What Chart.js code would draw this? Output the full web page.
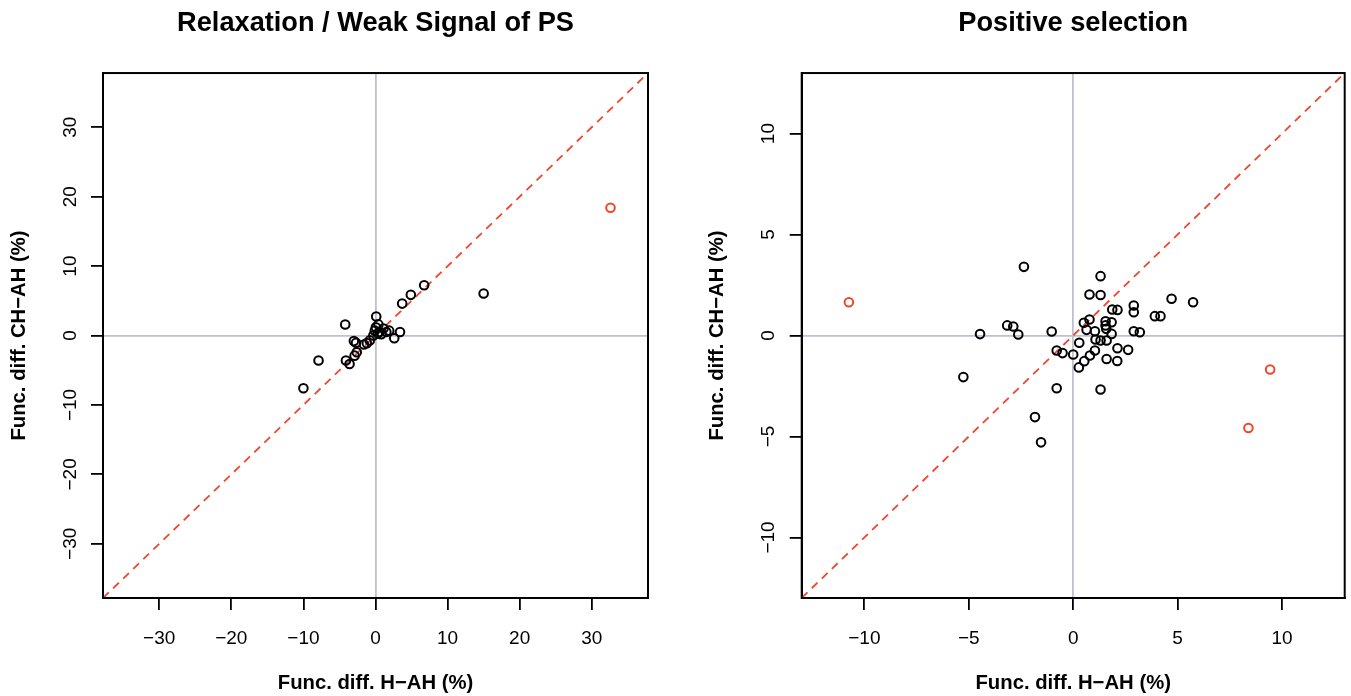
<!DOCTYPE html>
<html>
<head>
<meta charset="utf-8">
<script src="https://cdn.jsdelivr.net/npm/chart.js@4/dist/chart.umd.min.js"></script>
<style>
  html, body { margin: 0; padding: 0; background: #ffffff; }
  #wrap { position: relative; width: 1351px; height: 696px; overflow: hidden; }
  .pane { position: absolute; top: 0; height: 696px; }
</style>
</head>
<body>
<div id="wrap">
  <div class="pane" style="left:0;width:675px;"><canvas id="c1" width="675" height="696"></canvas></div>
  <div class="pane" style="left:675px;width:676px;"><canvas id="c2" width="676" height="696"></canvas></div>
</div>
<script>
// ---------- data: Relaxation / Weak Signal of PS ----------
const relaxH  = [15.0, 6.75, 4.9, 3.7, -4.2, 0.1, -7.9, -10.0, 3.4, 2.6, 1.9, 1.1, 0.4, 0.05, -0.1, 0.55, 1.5, -3.0, -2.7, -1.2, -1.6, -0.8, -2.6, -2.9, -4.1, -3.6, -0.3, 0.3, 0.8];
const relaxCH = [6.05, 7.24, 5.86, 4.6, 1.58, 2.73, -3.6, -7.6, 0.5, -0.4, 0.7, 1.0, 1.6, 1.2, 0.7, 0.5, 0.5, -0.8, -1.05, -1.1, -1.3, -0.7, -2.4, -2.9, -3.6, -4.1, 0.0, 0.3, 0.2];
const relaxOutH  = [32.6];
const relaxOutCH = [18.4];
const relaxTicks = [-30, -20, -10, 0, 10, 20, 30];
const relaxLim = 37.8;

// ---------- data: Positive selection ----------
const psH  = [-2.36, 1.31, 0.78, 1.31, 4.71, 5.74, 2.90, 2.90, 1.87, 2.12, 3.91, 4.18, 0.78, 0.51, 1.55, 1.84, 1.55, 1.58, 1.04, 0.64, 1.84, 2.90, 3.19, -3.16, -2.87, -4.46, -2.63, -1.03, 0.29, 1.07, 1.31, 1.60, 1.04, 0.80, 0.53, 0.27, -0.79, -0.51, 0.0, 2.12, 2.63, 1.60, 2.11, -0.79, 1.31, -5.26, -1.83, -1.54];
const psCH = [3.40, 2.94, 2.03, 2.01, 1.82, 1.65, 1.49, 1.15, 1.29, 1.27, 0.96, 0.96, 0.79, 0.63, 0.71, 0.66, 0.50, 0.33, 0.21, 0.28, 0.08, 0.21, 0.16, 0.50, 0.45, 0.07, 0.05, 0.20, -0.36, -0.20, -0.25, -0.25, -0.74, -0.99, -1.27, -1.58, -0.74, -0.87, -0.94, -0.63, -0.71, -1.16, -1.26, -2.61, -2.67, -2.06, -4.04, -5.29];
const psOutH  = [-10.74, 9.43, 8.39];
const psOutCH = [1.65, -1.68, -4.58];
const psTicks = [-10, -5, 0, 5, 10];
const psLim = 13.0;

// ---------- styling ----------
const FONT = '"Liberation Sans", Arial, Helvetica, sans-serif';
const RED = '#f0462d';
const ZERO = '#c0c0cf';

function pts(xs, ys) { return xs.map((x, i) => ({ x: x, y: ys[i] })); }
function fmt(v) { return v < 0 ? '\u2212' + Math.abs(v) : String(v); }

const boxPlugin = {
  id: 'box',
  afterDatasetsDraw(chart) {
    const a = chart.chartArea, ctx = chart.ctx;
    ctx.save();
    ctx.strokeStyle = '#000';
    ctx.lineWidth = 2;
    ctx.strokeRect(a.left, a.top, a.right - a.left, a.bottom - a.top);
    ctx.restore();
  }
};

function makeChart(id, cfg) {
  const lim = cfg.lim, ticks = cfg.ticks;
  const axisCommon = (isX) => ({
    type: 'linear',
    min: -lim, max: lim,
    afterBuildTicks: s => { s.ticks = ticks.map(v => ({ value: v })); },
    grid: {
      drawOnChartArea: true,
      color: c => (c.tick && c.tick.value === 0) ? ZERO : 'rgba(0,0,0,0)',
      lineWidth: 1.8,
      tickColor: '#000',
      tickWidth: 1.8,
      tickLength: 12
    },
    border: { display: true, color: '#000', width: 2 },
    ticks: {
      autoSkip: false,
      color: '#000',
      font: { family: FONT, size: 19 },
      callback: v => fmt(v),
      padding: isX ? cfg.xTickPad : cfg.yTickPad,
      minRotation: isX ? 0 : 90,
      maxRotation: isX ? 0 : 90,
      crossAlign: isX ? 'near' : 'center'
    },
    title: {
      display: true,
      text: isX ? 'Func. diff. H\u2212AH (%)' : 'Func. diff. CH\u2212AH (%)',
      color: '#000',
      font: { family: FONT, size: 20.3, weight: 'bold' },
      padding: isX ? { top: 0, bottom: 0 } : { top: cfg.yTitlePad, bottom: 0 }
    },
    afterFit: s => { if (isX) s.height = 98; else s.width = cfg.yWidth; }
  });

  return new Chart(document.getElementById(id), {
    type: 'scatter',
    data: {
      datasets: [
        {
          data: pts(cfg.outX, cfg.outY),
          pointStyle: 'circle', pointRadius: 4.3, pointHoverRadius: 4.3,
          borderColor: RED, backgroundColor: 'rgba(0,0,0,0)', borderWidth: 2
        },
        {
          data: pts(cfg.x, cfg.y),
          pointStyle: 'circle', pointRadius: 4.3, pointHoverRadius: 4.3,
          borderColor: '#000', backgroundColor: 'rgba(0,0,0,0)', borderWidth: 2
        },
        {
          type: 'line',
          data: [{ x: -lim, y: -lim }, { x: lim, y: lim }],
          borderColor: RED, borderWidth: 1.8, borderDash: [8, 6],
          pointRadius: 0, fill: false, tension: 0
        }
      ]
    },
    options: {
      responsive: false,
      animation: false,
      devicePixelRatio: 1,
      layout: { padding: { top: 0, left: 0, right: cfg.rightPad, bottom: 0 } },
      plugins: {
        legend: { display: false },
        tooltip: { enabled: false },
        title: {
          display: true,
          text: cfg.title,
          fullSize: false,
          color: '#000',
          font: { family: FONT, size: 27.2, weight: 'bold' },
          padding: { top: 7, bottom: 33.4 }
        }
      },
      scales: { x: axisCommon(true), y: axisCommon(false) }
    },
    plugins: [boxPlugin]
  });
}

makeChart('c1', {
  title: 'Relaxation / Weak Signal of PS',
  x: relaxH, y: relaxCH, outX: relaxOutH, outY: relaxOutCH,
  ticks: relaxTicks, lim: relaxLim,
  yWidth: 103, rightPad: 27, yTitlePad: 7, yTickPad: 4, xTickPad: 17
});
makeChart('c2', {
  title: 'Positive selection',
  x: psH, y: psCH, outX: psOutH, outY: psOutCH,
  ticks: psTicks, lim: psLim,
  yWidth: 126.7, rightPad: 6, yTitlePad: 30, yTickPad: 4.5, xTickPad: 17
});
</script>
</body>
</html>
